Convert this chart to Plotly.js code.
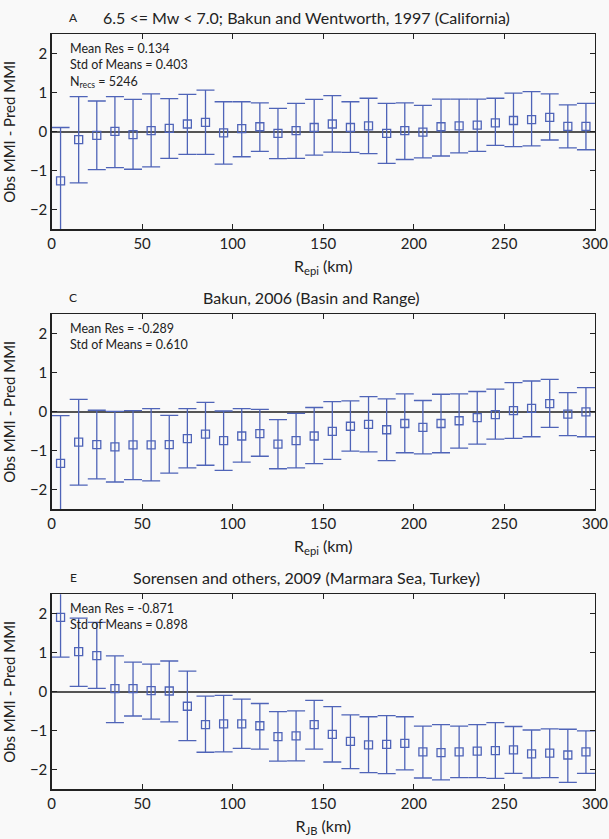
<!DOCTYPE html>
<html><head><meta charset="utf-8">
<script src="https://cdn.plot.ly/plotly-3.0.1.min.js"></script>
<style>html,body{margin:0;padding:0;background:#f9f9f9;}#chart{width:609px;height:839px;}</style>
</head><body><div id="chart"></div>
<script>
// distance bin centres (km)
const distA = [5,15,25,35,45,55,65,75,85,95,105,115,125,135,145,155,165,175,185,195,205,215,225,235,245,255,265,275,285,295];
const distC = distA.slice();
const distE = distA.slice();

// Panel A: Bakun and Wentworth, 1997 (California)
const meanA  = [-1.26,-0.20,-0.09,0.01,-0.07,0.03,0.09,0.20,0.24,-0.03,0.08,0.13,-0.04,0.03,0.11,0.20,0.11,0.15,-0.04,0.03,-0.01,0.13,0.15,0.17,0.23,0.29,0.31,0.37,0.14,0.14];
const upperA = [0.11,0.90,0.79,0.90,0.83,0.97,0.85,0.96,1.07,0.77,0.77,0.74,0.60,0.73,0.83,0.93,0.77,0.86,0.73,0.74,0.68,0.84,0.84,0.84,0.86,0.99,1.03,0.97,0.69,0.73];
const lowerA = [-2.70,-1.31,-0.97,-0.92,-0.96,-0.90,-0.68,-0.58,-0.58,-0.83,-0.64,-0.50,-0.69,-0.68,-0.60,-0.52,-0.53,-0.56,-0.81,-0.71,-0.67,-0.62,-0.54,-0.50,-0.35,-0.38,-0.36,-0.21,-0.41,-0.46];

// Panel C: Bakun, 2006 (Basin and Range)
const meanC  = [-1.32,-0.78,-0.84,-0.90,-0.85,-0.85,-0.84,-0.69,-0.57,-0.74,-0.62,-0.56,-0.83,-0.74,-0.62,-0.50,-0.37,-0.32,-0.46,-0.30,-0.40,-0.30,-0.23,-0.15,-0.07,0.03,0.09,0.21,-0.06,0.00];
const upperC = [-0.10,0.32,0.04,0.01,0.03,0.08,-0.09,0.08,0.24,0.02,0.08,0.06,-0.20,-0.04,0.11,0.26,0.28,0.39,0.33,0.46,0.29,0.45,0.46,0.52,0.58,0.75,0.79,0.83,0.49,0.62];
const lowerC = [-2.70,-1.88,-1.72,-1.80,-1.74,-1.77,-1.57,-1.44,-1.37,-1.50,-1.29,-1.14,-1.46,-1.44,-1.33,-1.22,-1.01,-1.03,-1.25,-1.05,-1.08,-1.05,-0.93,-0.83,-0.70,-0.68,-0.64,-0.40,-0.61,-0.64];

// Panel E: Sorensen and others, 2009 (Marmara Sea, Turkey)
const meanE  = [1.91,1.03,0.93,0.08,0.08,0.03,0.02,-0.37,-0.84,-0.82,-0.82,-0.87,-1.15,-1.13,-0.84,-1.09,-1.27,-1.36,-1.35,-1.32,-1.54,-1.56,-1.54,-1.52,-1.51,-1.49,-1.59,-1.57,-1.62,-1.54];
const upperE = [2.80,1.89,1.78,0.92,0.76,0.71,0.79,0.53,-0.11,-0.09,-0.19,-0.30,-0.51,-0.49,-0.22,-0.38,-0.59,-0.64,-0.61,-0.64,-0.88,-0.84,-0.88,-0.84,-0.79,-0.89,-0.98,-0.95,-0.96,-1.00];
const lowerE = [0.89,0.14,0.09,-0.79,-0.62,-0.70,-0.77,-1.25,-1.55,-1.54,-1.45,-1.47,-1.78,-1.77,-1.47,-1.80,-1.97,-2.07,-2.10,-2.00,-2.21,-2.26,-2.20,-2.20,-2.22,-2.09,-2.21,-2.20,-2.32,-2.09];

const titles = ["6.5 <= Mw < 7.0; Bakun and Wentworth, 1997 (California)",
                "Bakun, 2006 (Basin and Range)",
                "Sorensen and others, 2009 (Marmara Sea, Turkey)"];
const letters = ["A","C","E"];
const statsText = ["Mean Res = 0.134<br>Std of Means = 0.403<br>N<sub>recs</sub> = 5246",
                   "Mean Res = -0.289<br>Std of Means = 0.610",
                   "Mean Res = -0.871<br>Std of Means = 0.898"];
const xTitles = ["R<sub>epi</sub> (km)","R<sub>epi</sub> (km)","R<sub>JB</sub> (km)"];

const FONT = "Lato, 'Open Sans', sans-serif";
const BLUE = "#4f64b8";
const W = 609, H = 839;
const xdom = [51.5/W, 595/W];
const panelsPx = [[34.3,229.3],[314.3,509.3],[594.3,789.3]];
const titleCenters = [306, 311, 306];

const sets = [[distA,meanA,upperA,lowerA],[distC,meanC,upperC,lowerC],[distE,meanE,upperE,lowerE]];
const traces = [];
const layout = {
  width: W, height: H,
  margin: {l:0,r:0,t:0,b:0},
  paper_bgcolor: "#f9f9f9", plot_bgcolor: "#f9f9f9",
  showlegend: false,
  font: {family: FONT, size: 15, color: "#222"},
  annotations: []
};

sets.forEach((s,i) => {
  const [x,m,u,l] = s;
  const ax = i===0 ? "" : String(i+1);
  traces.push({
    type: "scatter", mode: "markers",
    x: x, y: m,
    xaxis: "x"+ax, yaxis: "y"+ax,
    marker: {symbol: "square-open", size: 8, color: BLUE, line: {width: 1.3, color: BLUE}},
    error_y: {type: "data", symmetric: false,
              array: u.map((v,k) => v - m[k]),
              arrayminus: l.map((v,k) => m[k] - v),
              color: BLUE, thickness: 1.3, width: 9},
    cliponaxis: true,
    hoverinfo: "skip"
  });
  const [top,bot] = panelsPx[i];
  const ydom = [1 - bot/H, 1 - top/H];
  layout["xaxis"+ax] = {
    domain: xdom, anchor: "y"+ax, range: [0,300], dtick: 50, tick0: 0,
    showgrid: false, zeroline: false, showline: true, linecolor: "#222", linewidth: 1.2,
    mirror: "ticks", ticks: "inside", ticklen: 5, tickcolor: "#222",
    tickfont: {size: 15, family: FONT, color: "#222"},
    title: {text: xTitles[i], font: {size: 16, family: FONT, color: "#222"}, standoff: 10}
  };
  layout["yaxis"+ax] = {
    domain: ydom, anchor: "x"+ax, range: [-2.5,2.5], dtick: 1, tick0: 0,
    showgrid: false, zeroline: true, zerolinecolor: "#555", zerolinewidth: 1.5,
    showline: true, linecolor: "#222", linewidth: 1.2,
    mirror: "ticks", ticks: "inside", ticklen: 5, tickcolor: "#222",
    tickfont: {size: 15, family: FONT, color: "#222"},
    title: {text: "Obs MMI - Pred MMI", font: {size: 15, family: FONT, color: "#222"}, standoff: 12}
  };
  layout.annotations.push({
    xref: "paper", yref: "paper", x: titleCenters[i]/W, y: 1 - (top-17)/H,
    xanchor: "center", yanchor: "middle", showarrow: false,
    text: titles[i], font: {size: 16, family: FONT, color: "#222"}
  });
  layout.annotations.push({
    xref: "paper", yref: "paper", x: 73/W, y: 1 - (top-17)/H,
    xanchor: "center", yanchor: "middle", showarrow: false,
    text: letters[i], font: {size: 12, family: FONT, color: "#222"}
  });
  layout.annotations.push({
    xref: "paper", yref: "paper", x: 68/W, y: 1 - (top+5)/H,
    xanchor: "left", yanchor: "top", align: "left", showarrow: false,
    text: statsText[i], font: {size: 12.5, family: FONT, color: "#222"}
  });
});

Plotly.newPlot("chart", traces, layout, {displayModeBar: false, staticPlot: true});
</script></body></html>
